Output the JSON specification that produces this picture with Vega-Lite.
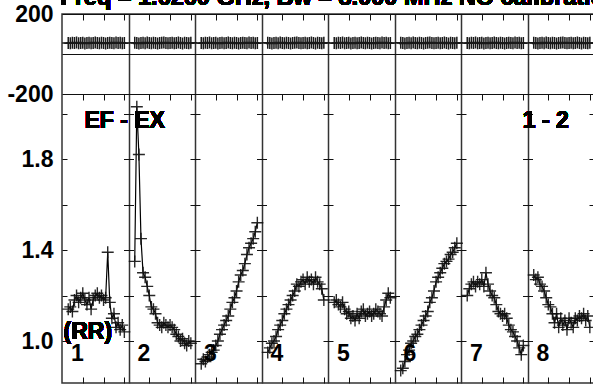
{
  "$schema": "https://vega.github.io/schema/vega-lite/v6.json",
  "width": 532,
  "height": 369,
  "autosize": {"type": "none"},
  "padding": {"left": 62, "top": 14, "right": 0, "bottom": 2},
  "background": "white",
  "config": {
    "view": {"stroke": "#333", "strokeWidth": 1.5},
    "font": "Liberation Sans",
    "axis": {"labelFont": "Liberation Sans", "labelFontSize": 23, "labelFontWeight": "bold", "labelColor": "#000", "domain": false, "ticks": false, "grid": false}
  },
  "data": {"values": [
    {"i":1,"c":3,"a":1.14,"p":55},{"i":1,"c":4,"a":1.15,"p":54},{"i":1,"c":5,"a":1.13,"p":56},{"i":1,"c":6,"a":1.18,"p":55},{"i":1,"c":7,"a":1.20,"p":57},{"i":1,"c":8,"a":1.17,"p":54},{"i":1,"c":9,"a":1.19,"p":55},{"i":1,"c":10,"a":1.21,"p":56},{"i":1,"c":11,"a":1.18,"p":53},{"i":1,"c":12,"a":1.16,"p":55},{"i":1,"c":13,"a":1.19,"p":56},{"i":1,"c":14,"a":1.14,"p":54},{"i":1,"c":15,"a":1.18,"p":55},{"i":1,"c":16,"a":1.20,"p":57},{"i":1,"c":17,"a":1.21,"p":55},{"i":1,"c":18,"a":1.19,"p":54},{"i":1,"c":19,"a":1.20,"p":56},{"i":1,"c":20,"a":1.18,"p":55},{"i":1,"c":21,"a":1.19,"p":53},{"i":1,"c":22,"a":1.39,"p":55},{"i":1,"c":23,"a":1.17,"p":56},{"i":1,"c":24,"a":1.10,"p":55},{"i":1,"c":25,"a":1.12,"p":54},{"i":1,"c":26,"a":1.06,"p":57},{"i":1,"c":27,"a":1.08,"p":55},{"i":1,"c":28,"a":1.05,"p":56},{"i":1,"c":29,"a":1.07,"p":54},{"i":1,"c":30,"a":1.04,"p":55},
    {"i":2,"c":35,"a":1.35,"p":56},{"i":2,"c":36,"a":2.03,"p":55},{"i":2,"c":37,"a":1.82,"p":53},{"i":2,"c":38,"a":1.45,"p":55},{"i":2,"c":39,"a":1.30,"p":56},{"i":2,"c":40,"a":1.28,"p":54},{"i":2,"c":41,"a":1.24,"p":57},{"i":2,"c":42,"a":1.20,"p":55},{"i":2,"c":43,"a":1.15,"p":54},{"i":2,"c":44,"a":1.14,"p":56},{"i":2,"c":45,"a":1.12,"p":55},{"i":2,"c":46,"a":1.08,"p":53},{"i":2,"c":47,"a":1.07,"p":55},{"i":2,"c":48,"a":1.06,"p":56},{"i":2,"c":49,"a":1.08,"p":57},{"i":2,"c":50,"a":1.07,"p":55},{"i":2,"c":51,"a":1.06,"p":54},{"i":2,"c":52,"a":1.07,"p":55},{"i":2,"c":53,"a":1.06,"p":56},{"i":2,"c":54,"a":1.05,"p":54},{"i":2,"c":55,"a":1.03,"p":55},{"i":2,"c":56,"a":1.02,"p":57},{"i":2,"c":57,"a":1.00,"p":55},{"i":2,"c":58,"a":1.01,"p":53},{"i":2,"c":59,"a":0.99,"p":56},{"i":2,"c":60,"a":0.98,"p":55},{"i":2,"c":61,"a":1.00,"p":54},{"i":2,"c":62,"a":0.99,"p":56},
    {"i":3,"c":67,"a":0.90,"p":55},{"i":3,"c":68,"a":0.92,"p":54},{"i":3,"c":69,"a":0.91,"p":56},{"i":3,"c":70,"a":0.93,"p":55},{"i":3,"c":71,"a":0.94,"p":57},{"i":3,"c":72,"a":0.95,"p":54},{"i":3,"c":73,"a":0.96,"p":55},{"i":3,"c":74,"a":0.98,"p":56},{"i":3,"c":75,"a":1.00,"p":53},{"i":3,"c":76,"a":1.03,"p":55},{"i":3,"c":77,"a":1.05,"p":56},{"i":3,"c":78,"a":1.07,"p":54},{"i":3,"c":79,"a":1.09,"p":55},{"i":3,"c":80,"a":1.11,"p":57},{"i":3,"c":81,"a":1.14,"p":55},{"i":3,"c":82,"a":1.17,"p":54},{"i":3,"c":83,"a":1.19,"p":56},{"i":3,"c":84,"a":1.22,"p":55},{"i":3,"c":85,"a":1.26,"p":53},{"i":3,"c":86,"a":1.29,"p":55},{"i":3,"c":87,"a":1.31,"p":56},{"i":3,"c":88,"a":1.34,"p":55},{"i":3,"c":89,"a":1.38,"p":54},{"i":3,"c":90,"a":1.41,"p":57},{"i":3,"c":91,"a":1.43,"p":55},{"i":3,"c":92,"a":1.45,"p":56},{"i":3,"c":93,"a":1.48,"p":54},{"i":3,"c":94,"a":1.52,"p":55},
    {"i":4,"c":99,"a":0.95,"p":56},{"i":4,"c":100,"a":0.97,"p":55},{"i":4,"c":101,"a":0.99,"p":53},{"i":4,"c":102,"a":1.00,"p":55},{"i":4,"c":103,"a":1.02,"p":56},{"i":4,"c":104,"a":1.05,"p":54},{"i":4,"c":105,"a":1.07,"p":57},{"i":4,"c":106,"a":1.09,"p":55},{"i":4,"c":107,"a":1.12,"p":54},{"i":4,"c":108,"a":1.14,"p":56},{"i":4,"c":109,"a":1.16,"p":55},{"i":4,"c":110,"a":1.18,"p":53},{"i":4,"c":111,"a":1.20,"p":55},{"i":4,"c":112,"a":1.22,"p":56},{"i":4,"c":113,"a":1.25,"p":57},{"i":4,"c":114,"a":1.24,"p":55},{"i":4,"c":115,"a":1.26,"p":54},{"i":4,"c":116,"a":1.27,"p":55},{"i":4,"c":117,"a":1.25,"p":56},{"i":4,"c":118,"a":1.28,"p":54},{"i":4,"c":119,"a":1.26,"p":55},{"i":4,"c":120,"a":1.27,"p":57},{"i":4,"c":121,"a":1.25,"p":55},{"i":4,"c":122,"a":1.28,"p":53},{"i":4,"c":123,"a":1.26,"p":56},{"i":4,"c":124,"a":1.25,"p":55},{"i":4,"c":125,"a":1.23,"p":54},{"i":4,"c":126,"a":1.18,"p":56},
    {"i":5,"c":131,"a":1.17,"p":55},{"i":5,"c":132,"a":1.18,"p":54},{"i":5,"c":133,"a":1.16,"p":56},{"i":5,"c":134,"a":1.15,"p":55},{"i":5,"c":135,"a":1.17,"p":57},{"i":5,"c":136,"a":1.14,"p":54},{"i":5,"c":137,"a":1.12,"p":55},{"i":5,"c":138,"a":1.13,"p":56},{"i":5,"c":139,"a":1.10,"p":53},{"i":5,"c":140,"a":1.11,"p":55},{"i":5,"c":141,"a":1.09,"p":56},{"i":5,"c":142,"a":1.12,"p":54},{"i":5,"c":143,"a":1.10,"p":55},{"i":5,"c":144,"a":1.13,"p":57},{"i":5,"c":145,"a":1.14,"p":55},{"i":5,"c":146,"a":1.11,"p":54},{"i":5,"c":147,"a":1.12,"p":56},{"i":5,"c":148,"a":1.13,"p":55},{"i":5,"c":149,"a":1.11,"p":53},{"i":5,"c":150,"a":1.12,"p":55},{"i":5,"c":151,"a":1.14,"p":56},{"i":5,"c":152,"a":1.13,"p":55},{"i":5,"c":153,"a":1.12,"p":54},{"i":5,"c":154,"a":1.11,"p":57},{"i":5,"c":155,"a":1.15,"p":55},{"i":5,"c":156,"a":1.18,"p":56},{"i":5,"c":157,"a":1.21,"p":54},{"i":5,"c":158,"a":1.19,"p":55},
    {"i":6,"c":163,"a":0.87,"p":56},{"i":6,"c":164,"a":0.88,"p":55},{"i":6,"c":165,"a":0.91,"p":53},{"i":6,"c":166,"a":0.94,"p":55},{"i":6,"c":167,"a":0.96,"p":56},{"i":6,"c":168,"a":0.99,"p":54},{"i":6,"c":169,"a":1.00,"p":57},{"i":6,"c":170,"a":1.02,"p":55},{"i":6,"c":171,"a":1.03,"p":54},{"i":6,"c":172,"a":1.05,"p":56},{"i":6,"c":173,"a":1.07,"p":55},{"i":6,"c":174,"a":1.09,"p":53},{"i":6,"c":175,"a":1.11,"p":55},{"i":6,"c":176,"a":1.13,"p":56},{"i":6,"c":177,"a":1.17,"p":57},{"i":6,"c":178,"a":1.19,"p":55},{"i":6,"c":179,"a":1.22,"p":54},{"i":6,"c":180,"a":1.26,"p":55},{"i":6,"c":181,"a":1.28,"p":56},{"i":6,"c":182,"a":1.30,"p":54},{"i":6,"c":183,"a":1.32,"p":55},{"i":6,"c":184,"a":1.34,"p":57},{"i":6,"c":185,"a":1.35,"p":55},{"i":6,"c":186,"a":1.36,"p":53},{"i":6,"c":187,"a":1.38,"p":56},{"i":6,"c":188,"a":1.39,"p":55},{"i":6,"c":189,"a":1.41,"p":54},{"i":6,"c":190,"a":1.43,"p":56},
    {"i":7,"c":195,"a":1.20,"p":55},{"i":7,"c":196,"a":1.23,"p":54},{"i":7,"c":197,"a":1.25,"p":56},{"i":7,"c":198,"a":1.26,"p":55},{"i":7,"c":199,"a":1.24,"p":57},{"i":7,"c":200,"a":1.26,"p":54},{"i":7,"c":201,"a":1.25,"p":55},{"i":7,"c":202,"a":1.27,"p":56},{"i":7,"c":203,"a":1.24,"p":53},{"i":7,"c":204,"a":1.30,"p":55},{"i":7,"c":205,"a":1.25,"p":56},{"i":7,"c":206,"a":1.22,"p":54},{"i":7,"c":207,"a":1.20,"p":55},{"i":7,"c":208,"a":1.19,"p":57},{"i":7,"c":209,"a":1.16,"p":55},{"i":7,"c":210,"a":1.13,"p":54},{"i":7,"c":211,"a":1.12,"p":56},{"i":7,"c":212,"a":1.11,"p":55},{"i":7,"c":213,"a":1.12,"p":53},{"i":7,"c":214,"a":1.10,"p":55},{"i":7,"c":215,"a":1.07,"p":56},{"i":7,"c":216,"a":1.05,"p":55},{"i":7,"c":217,"a":1.04,"p":54},{"i":7,"c":218,"a":1.02,"p":57},{"i":7,"c":219,"a":1.00,"p":55},{"i":7,"c":220,"a":0.97,"p":56},{"i":7,"c":221,"a":0.94,"p":54},{"i":7,"c":222,"a":0.98,"p":55},
    {"i":8,"c":227,"a":1.29,"p":56},{"i":8,"c":228,"a":1.27,"p":55},{"i":8,"c":229,"a":1.28,"p":53},{"i":8,"c":230,"a":1.25,"p":55},{"i":8,"c":231,"a":1.24,"p":56},{"i":8,"c":232,"a":1.22,"p":54},{"i":8,"c":233,"a":1.19,"p":57},{"i":8,"c":234,"a":1.16,"p":55},{"i":8,"c":235,"a":1.15,"p":54},{"i":8,"c":236,"a":1.12,"p":56},{"i":8,"c":237,"a":1.08,"p":55},{"i":8,"c":238,"a":1.12,"p":53},{"i":8,"c":239,"a":1.06,"p":55},{"i":8,"c":240,"a":1.10,"p":56},{"i":8,"c":241,"a":1.07,"p":57},{"i":8,"c":242,"a":1.09,"p":55},{"i":8,"c":243,"a":1.05,"p":54},{"i":8,"c":244,"a":1.10,"p":55},{"i":8,"c":245,"a":1.08,"p":56},{"i":8,"c":246,"a":1.06,"p":54},{"i":8,"c":247,"a":1.10,"p":55},{"i":8,"c":248,"a":1.09,"p":57},{"i":8,"c":249,"a":1.11,"p":55},{"i":8,"c":250,"a":1.10,"p":53},{"i":8,"c":251,"a":1.12,"p":56},{"i":8,"c":252,"a":1.09,"p":55},{"i":8,"c":253,"a":1.11,"p":54},{"i":8,"c":254,"a":1.06,"p":56}
  ]},
  "resolve": {"scale": {"x": "independent", "y": "independent"}, "axis": {"x": "independent", "y": "independent"}},
  "layer": [
    {
      "mark": {"type": "point", "shape": "M-1,0L1,0M0,-1L0,1", "filled": false, "size": 144, "stroke": "#1a1a1a", "strokeWidth": 1.5, "opacity": 1},
      "encoding": {
        "x": {"field": "c", "type": "quantitative", "scale": {"domain": [0, 256], "nice": false, "zero": false},
              "axis": {"orient": "bottom", "title": null, "labels": false, "values": [32, 64, 96, 128, 160, 192, 224], "grid": true, "gridColor": "#333", "gridWidth": 1.5, "gridOpacity": 1}},
        "y": {"field": "p", "type": "quantitative", "scale": {"domain": [-1645, 200], "nice": false, "zero": false},
              "axis": {"orient": "left", "title": null, "values": [200, 0, -200], "labelExpr": "datum.value == 200 ? '200' : datum.value == -200 ? '-200' : ''", "labelPadding": 9, "labelBaseline": "middle", "grid": true, "gridColor": "#111", "gridWidth": 1.2, "gridOpacity": 1}}
      }
    },
    {
      "mark": {"type": "line", "stroke": "#000", "strokeWidth": 1.2},
      "encoding": {
        "x": {"field": "c", "type": "quantitative", "scale": {"domain": [0, 256], "nice": false, "zero": false},
              "axis": {"orient": "bottom", "title": null, "labels": false, "values": [10, 20, 30, 42, 52, 62, 74, 84, 94, 106, 116, 126, 138, 148, 158, 170, 180, 190, 202, 212, 222, 234, 244, 254], "grid": true, "gridColor": "#111", "gridWidth": 1, "gridOpacity": 1, "gridDash": [6, 74, 6, 277, 6, 50]}},
        "y": {"field": "a", "type": "quantitative", "scale": {"domain": [0.8154, 2.4374], "nice": false, "zero": false},
              "axis": {"orient": "left", "title": null, "values": [1.0, 1.4, 1.8], "format": ".1f", "labelPadding": 9, "labelBaseline": "middle"}},
        "detail": {"field": "i", "type": "nominal"}
      }
    },
    {
      "mark": {"type": "point", "shape": "M-1,0L1,0M0,-1L0,1", "filled": false, "size": 144, "stroke": "#111", "strokeWidth": 1.4, "opacity": 0.9},
      "encoding": {
        "x": {"field": "c", "type": "quantitative", "scale": {"domain": [0, 256], "nice": false, "zero": false}, "axis": null},
        "y": {"field": "a", "type": "quantitative", "scale": {"domain": [0.8154, 2.4374], "nice": false, "zero": false},
              "axis": {"orient": "left", "title": null, "labels": false, "values": [1.0, 1.2, 1.4, 1.6, 1.8, 2.0], "grid": true, "gridColor": "#111", "gridWidth": 1, "gridOpacity": 1, "gridDash": [10, 56.5], "gridDashOffset": 5}}
      }
    },
    {
      "data": {"values": [{"n": 1}, {"n": 2}, {"n": 3}, {"n": 4}, {"n": 5}, {"n": 6}, {"n": 7}, {"n": 8}]},
      "mark": {"type": "text", "align": "center", "baseline": "alphabetic", "font": "Liberation Sans", "fontSize": 23, "fontWeight": "bold", "fill": "#000"},
      "encoding": {
        "x": {"field": "n", "type": "quantitative", "scale": {"domain": [0.767, 8.767], "nice": false, "zero": false}, "axis": null},
        "y": {"datum": 0.9134, "type": "quantitative", "scale": {"domain": [0.8154, 2.4374], "nice": false, "zero": false}, "axis": null},
        "text": {"field": "n", "type": "nominal"}
      }
    },
    {
      "mark": {"type": "text", "align": "left", "baseline": "alphabetic", "font": "Liberation Sans", "fontSize": 23, "fontWeight": "bold", "fill": "#000", "text": "EF - EX"},
      "encoding": {
        "x": {"datum": 10.8, "type": "quantitative", "scale": {"domain": [0, 256], "nice": false, "zero": false}, "axis": null},
        "y": {"datum": 1.936, "type": "quantitative", "scale": {"domain": [0.8154, 2.4374], "nice": false, "zero": false}, "axis": null}
      }
    },
    {
      "mark": {"type": "text", "align": "left", "baseline": "alphabetic", "font": "Liberation Sans", "fontSize": 23, "fontWeight": "bold", "fill": "#000", "text": "1 - 2"},
      "encoding": {
        "x": {"datum": 221.7, "type": "quantitative", "scale": {"domain": [0, 256], "nice": false, "zero": false}, "axis": null},
        "y": {"datum": 1.936, "type": "quantitative", "scale": {"domain": [0.8154, 2.4374], "nice": false, "zero": false}, "axis": null}
      }
    },
    {
      "mark": {"type": "text", "align": "left", "baseline": "alphabetic", "font": "Liberation Sans", "fontSize": 23, "fontWeight": "bold", "fill": "#000", "text": "(RR)"},
      "encoding": {
        "x": {"datum": 0.72, "type": "quantitative", "scale": {"domain": [0, 256], "nice": false, "zero": false}, "axis": null},
        "y": {"datum": 1.0075, "type": "quantitative", "scale": {"domain": [0.8154, 2.4374], "nice": false, "zero": false}, "axis": null}
      }
    },
    {
      "mark": {"type": "text", "align": "left", "baseline": "alphabetic", "font": "Liberation Sans", "fontSize": 23.5, "fontWeight": "bold", "fill": "#000", "text": "Freq = 1.6260 GHz, Bw = 8.000 MHz  NO calibration"},
      "encoding": {
        "x": {"datum": -0.8, "type": "quantitative", "scale": {"domain": [0, 256], "nice": false, "zero": false}, "axis": null},
        "y": {"datum": 2.477, "type": "quantitative", "scale": {"domain": [0.8154, 2.4374], "nice": false, "zero": false}, "axis": null}
      }
    }
  ]
}
